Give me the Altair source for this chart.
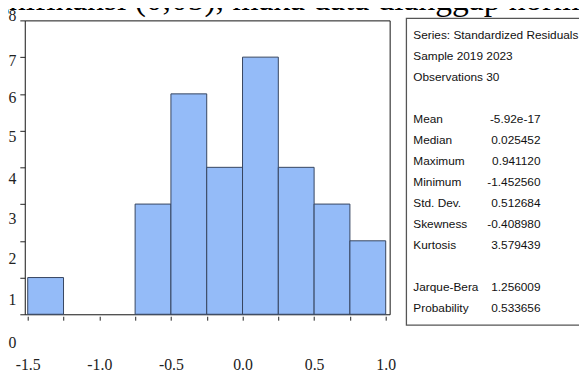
import altair as alt
import pandas as pd

# Histogram data (bin start, count), bin width 0.25
bin_starts = [-1.5, -1.25, -1.0, -0.75, -0.5, -0.25, 0.0, 0.25, 0.5, 0.75]
counts = [1, 0, 0, 3, 6, 4, 7, 4, 3, 2]
bin_width = 0.25

# Statistics panel
stat_labels = ["Series: Standardized Residuals", "Sample  2019 2023", "Observations 30",
               "Mean", "Median", "Maximum", "Minimum", "Std. Dev.", "Skewness",
               "Kurtosis", "Jarque-Bera", "Probability"]
stat_values = ["", "", "", "-5.92e-17", "0.025452", "0.941120", "-1.452560", "0.512684",
               "-0.408980", "3.579439", "1.256009", "0.533656"]
stat_lines = [0, 1, 2, 4, 5, 6, 7, 8, 9, 10, 12, 13]

x_ticks = [-1.5, -1.25, -1.0, -0.75, -0.5, -0.25, 0.0, 0.25, 0.5, 0.75, 1.0]
y_ticks = [0, 1, 2, 3, 4, 5, 6, 7, 8]

top_text = "gnifikansi (0,05), maka data dianggap norm"

hist = pd.DataFrame({"start": bin_starts, "count": counts})
hist["end"] = hist["start"] + bin_width
hist["base"] = 0
stats = pd.DataFrame({"label": stat_labels, "value": stat_values, "line": stat_lines})

SERIF = "Liberation Serif"
SANS = "Liberation Sans"

xscale = alt.Scale(domain=[-1.5207, 1.0275], nice=False, zero=False)
yscale = alt.Scale(domain=[0, 8], nice=False)

bars = alt.Chart(hist).transform_filter("datum.count > 0").mark_rect(
    fill="#94bbf8", stroke="#36445e", strokeWidth=1
).encode(
    x=alt.X("start:Q", scale=xscale, title=None,
            axis=alt.Axis(values=x_ticks, domain=False, grid=False, offset=2,
                          tickSize=4, tickColor="#222", labelPadding=37,
                          labelFont=SERIF, labelFontSize=16, labelColor="#222",
                          labelFlush=False, labelOverlap=False,
                          labelExpr="abs(datum.value*2 - round(datum.value*2)) < 1e-6 ? replace(format(datum.value, '.1f'), '\u2212', '-') : ''")),
    x2="end:Q",
    y=alt.Y("count:Q", scale=yscale, title=None,
            axis=alt.Axis(values=y_ticks, domain=False, grid=False, tickSize=5,
                          tickColor="#222", labelPadding=4, format="d",
                          labelFont=SERIF, labelFontSize=16, labelColor="#222",
                          labelFlush=False, labelOverlap=False,
                          labelOffset=alt.ExprRef(expr="[29, 22, 18, 15, 11, 6, 4, 3, -5][datum.value]"))),
    y2="base:Q",
)

box = alt.Chart(pd.DataFrame({"a": [0]})).mark_rect(
    fill="white", stroke="#555", strokeWidth=1.3
).encode(x=alt.value(387), x2=alt.value(620), y=alt.value(-2), y2=alt.value(309))

lscale = alt.Scale(domain=[-0.704, 13.286], nice=False, zero=False, reverse=True)

stat_lab = alt.Chart(stats).mark_text(
    align="left", baseline="middle", font=SANS, fontSize=12, color="#111"
).encode(x=alt.value(394), y=alt.Y("line:Q", scale=lscale, axis=None), text="label:N")

stat_val = alt.Chart(stats).mark_text(
    align="right", baseline="middle", font=SANS, fontSize=12, color="#111"
).encode(x=alt.value(523), y=alt.Y("line:Q", scale=lscale, axis=None), text="value:N")

top = alt.Chart(pd.DataFrame({"t": [top_text]})).mark_text(
    align="left", baseline="alphabetic", font=SERIF, fontSize=34, color="#000"
).encode(x=alt.value(-33), y=alt.value(-11), text="t:N")

chart = alt.layer(bars, box, stat_lab, stat_val, top).resolve_scale(
    y="independent"
).properties(
    width=370, height=298,
    autosize=alt.AutoSizeParams(type="none"),
    padding={"left": 17, "top": 10, "right": 192, "bottom": 58},
).configure_view(stroke="#111", strokeWidth=1)

chart.save("out.html", embed_options={"renderer": "svg", "actions": False})
